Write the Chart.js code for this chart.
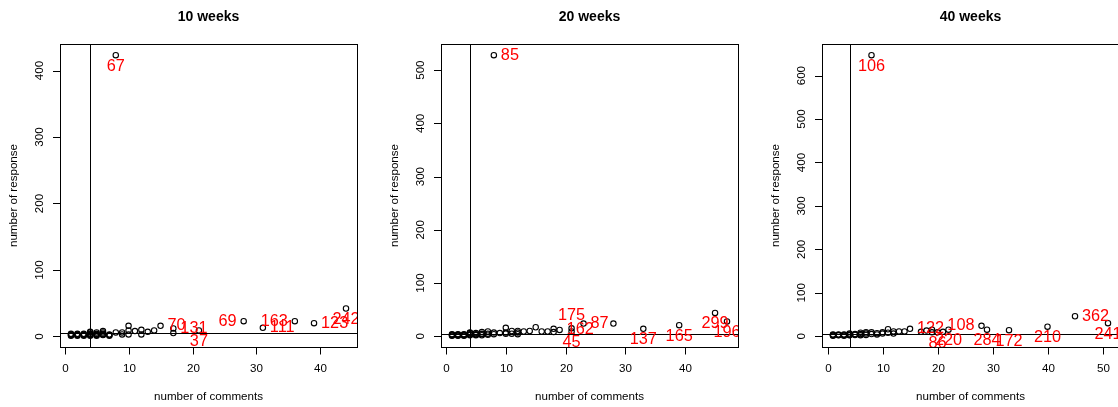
<!DOCTYPE html>
<html>
<head>
<meta charset="utf-8">
<script src="https://cdn.jsdelivr.net/npm/chart.js@4.4.1/dist/chart.umd.min.js"></script>
<style>
  html, body { margin: 0; padding: 0; background: #fff; width: 1118px; height: 407px; overflow: hidden; }
  .panel { position: absolute; top: 0; width: 381px; height: 407px; }
</style>
</head>
<body>
<div class="panel" style="left:0px"><canvas id="weeks10" width="381" height="407"></canvas></div>
<div class="panel" style="left:381px"><canvas id="weeks20" width="381" height="407"></canvas></div>
<div class="panel" style="left:762px"><canvas id="weeks40" width="381" height="407"></canvas></div>
<script>
// cut-off lines
const cutComments = 4;
const cutResponses = 5;

// 10 weeks
const comments10 = [1,1,1,1,2,2,2,2,3,3,3,3,4,4,4,4,4,4,5,5,5,5,5,6,6,6,6,6,7,7,7,8,8,9,9,10,10,10,11,12,12,13,14,15,17,17,21,28,31,36,39,44];
const responses10 = [1,2,3,4,1,2,3,4,1,2,3,4,1,2,3,4,6,7,1,2,3,4,6,2,3,4,6,8,1,2,3,6,423,3,6,3,9,16,8,3,10,7,9,16,5,12,9,23,13,23,20,42];
const xTicks10 = [0,10,20,30,40];
const yTicks10 = [0,100,200,300,400];
const labelText10 = ['67','70','131','37','69','163','111','123','242'];
const labelX10 = [8,15,17,21,28,36,31,39,44];
const labelY10 = [423,16,12,9,23,23,13,20,42];
const labelSide10 = [1,4,4,1,2,2,4,4,1];

// 20 weeks
const comments20 = [1,1,1,1,2,2,2,2,3,3,3,3,4,4,4,4,4,5,5,5,5,6,6,6,6,7,7,7,8,8,8,9,10,10,10,11,11,12,12,12,13,14,15,16,17,18,18,19,21,21,23,28,33,39,45,47];
const responses20 = [1,2,3,4,1,2,3,4,1,2,3,4,2,3,4,6,7,2,3,4,6,2,4,5,8,3,5,9,4,7,528,6,5,7,16,5,10,4,7,10,9,10,17,9,9,8,14,12,9,15,24,24,14,21,44,28];
const xTicks20 = [0,10,20,30,40];
const yTicks20 = [0,100,200,300,400,500];
const labelText20 = ['85','175','162','45','87','137','165','299','196'];
const labelX20 = [8,21,19,21,23,33,39,45,47];
const labelY20 = [528,15,12,9,24,14,21,44,28];
const labelSide20 = [4,3,4,1,4,1,1,1,1];

// 40 weeks
const comments40 = [1,1,1,1,2,2,2,3,3,3,4,4,4,4,5,5,5,6,6,6,6,7,7,7,8,8,8,9,9,10,10,11,11,12,12,13,14,15,17,18,19,19,20,21,22,28,29,33,40,45,51];
const responses40 = [1,2,3,4,2,3,4,1,3,4,2,3,4,6,3,4,5,2,4,5,8,3,6,9,5,9,647,4,7,6,9,8,16,6,11,11,11,17,10,13,9,15,9,10,15,24,15,14,22,46,30];
const xTicks40 = [0,10,20,30,40,50];
const yTicks40 = [0,100,200,300,400,500,600];
const labelText40 = ['106','122','108','220','86','284','172','210','362','241'];
const labelX40 = [8,15,28,22,20,29,33,40,45,51];
const labelY40 = [647,17,24,15,9,15,14,22,46,30];
const labelSide40 = [1,4,2,1,1,1,1,1,4,1];

const fontFamily = '"Liberation Sans", Arial, Helvetica, sans-serif';

// R-like axis range: data range widened by 4% on each side
function rRange(values) {
    const lo = Math.min(...values);
    const hi = Math.max(...values);
    const pad = (hi - lo) * 0.04;
    return { min: lo - pad, max: hi + pad };
}

// box, ticks, titles, cut lines and red point labels, R base graphics style
const rPlotPlugin = {
    id: 'rPlot',
    afterDatasetsDraw(chart, args, opts) {
        const ctx = chart.ctx;
        const area = chart.chartArea;
        const xs = chart.scales.x;
        const ys = chart.scales.y;

        ctx.save();
        ctx.strokeStyle = '#000';
        ctx.lineWidth = 1;

        // cut lines
        const vx = Math.round(xs.getPixelForValue(cutComments)) + 0.5;
        const hy = Math.round(ys.getPixelForValue(cutResponses)) + 0.5;
        ctx.beginPath();
        ctx.moveTo(vx, area.top);
        ctx.lineTo(vx, area.bottom);
        ctx.moveTo(area.left, hy);
        ctx.lineTo(area.right, hy);
        ctx.stroke();

        // box
        ctx.strokeRect(area.left + 0.5, area.top + 0.5, area.right - area.left, area.bottom - area.top);

        // red labels, clipped to the plot region
        ctx.save();
        ctx.beginPath();
        ctx.rect(area.left, area.top, area.right - area.left, area.bottom - area.top);
        ctx.clip();
        ctx.fillStyle = '#ff0000';
        ctx.font = '16.3px ' + fontFamily;
        opts.labels.forEach((txt, i) => {
            const px = xs.getPixelForValue(opts.labelX[i]);
            const py = ys.getPixelForValue(opts.labelY[i]);
            const side = opts.labelSide[i];
            ctx.textBaseline = 'middle';
            if (side === 1) {
                ctx.textAlign = 'center';
                ctx.fillText(txt, px, py + 11);
            } else if (side === 3) {
                ctx.textAlign = 'center';
                ctx.fillText(txt, px, py - 12.5);
            } else if (side === 2) {
                ctx.textAlign = 'right';
                ctx.fillText(txt, px - 7, py);
            } else {
                ctx.textAlign = 'left';
                ctx.fillText(txt, px + 7, py);
            }
        });
        ctx.restore();

        // axes
        ctx.fillStyle = '#000';
        ctx.font = '11.6px ' + fontFamily;
        ctx.textAlign = 'center';
        ctx.textBaseline = 'middle';
        ctx.beginPath();
        opts.xTicks.forEach(t => {
            const px = Math.round(xs.getPixelForValue(t)) + 0.5;
            ctx.moveTo(px, area.bottom + 1);
            ctx.lineTo(px, area.bottom + 7.5);
            ctx.fillText(String(t), px, 369);
        });
        opts.yTicks.forEach(t => {
            const py = Math.round(ys.getPixelForValue(t)) + 0.5;
            ctx.moveTo(area.left, py);
            ctx.lineTo(area.left - 7, py);
        });
        ctx.stroke();
        opts.yTicks.forEach(t => {
            const py = ys.getPixelForValue(t);
            ctx.save();
            ctx.translate(40, py);
            ctx.rotate(-Math.PI / 2);
            ctx.fillText(String(t), 0, 0);
            ctx.restore();
        });

        const midX = (area.left + area.right) / 2;
        const midY = (area.top + area.bottom) / 2;
        ctx.fillText('number of comments', midX, 397);
        ctx.save();
        ctx.translate(13.5, midY);
        ctx.rotate(-Math.PI / 2);
        ctx.fillText('number of response', 0, 0);
        ctx.restore();

        ctx.font = 'bold 14px ' + fontFamily;
        ctx.fillText(opts.title, midX, 17);
        ctx.restore();
    }
};

function makePanel(id, title, xs, ys, xTicks, yTicks, labels, labelX, labelY, labelSide) {
    const ctx = document.getElementById(id).getContext('2d');
    const xr = rRange(xs);
    const yr = rRange(ys);
    return new Chart(ctx, {
        type: 'scatter',
        data: {
            datasets: [{
                data: xs.map((x, i) => ({ x: x, y: ys[i] })),
                pointStyle: 'circle',
                pointRadius: 2.7,
                borderWidth: 1.1,
                borderColor: '#000',
                backgroundColor: 'rgba(0,0,0,0)'
            }]
        },
        options: {
            responsive: false,
            animation: false,
            layout: { padding: { left: 60, right: 24, top: 44, bottom: 60 } },
            scales: {
                x: { type: 'linear', display: false, min: xr.min, max: xr.max },
                y: { type: 'linear', display: false, min: yr.min, max: yr.max }
            },
            plugins: {
                legend: { display: false },
                tooltip: { enabled: false },
                rPlot: {
                    title: title,
                    xTicks: xTicks,
                    yTicks: yTicks,
                    labels: labels,
                    labelX: labelX,
                    labelY: labelY,
                    labelSide: labelSide
                }
            }
        },
        plugins: [rPlotPlugin]
    });
}

makePanel('weeks10', '10 weeks', comments10, responses10, xTicks10, yTicks10, labelText10, labelX10, labelY10, labelSide10);
makePanel('weeks20', '20 weeks', comments20, responses20, xTicks20, yTicks20, labelText20, labelX20, labelY20, labelSide20);
makePanel('weeks40', '40 weeks', comments40, responses40, xTicks40, yTicks40, labelText40, labelX40, labelY40, labelSide40);
</script>
</body>
</html>
